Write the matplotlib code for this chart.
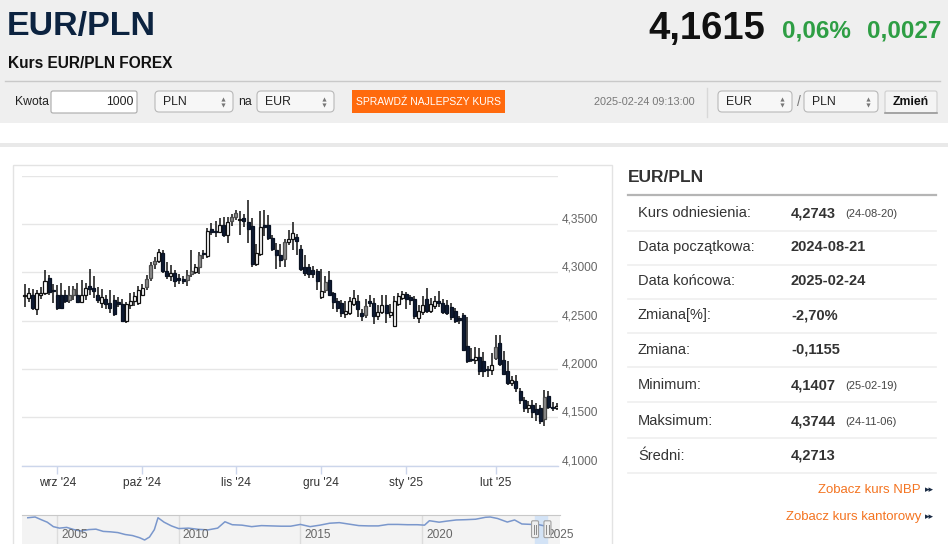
import numpy as np
import pandas as pd
import matplotlib
matplotlib.use("Agg")
import matplotlib.pyplot as plt
from matplotlib.patches import Rectangle, FancyBboxPatch
from matplotlib.transforms import ScaledTranslation, blended_transform_factory
from matplotlib import font_manager as fm

# ---------------- data ----------------
holidays = ["2024-12-25", "2025-01-01"]
month_labels = ["wrz '24", "paź '24", "lis '24", "gru '24", "sty '25", "lut '25"]

open_ = [4.275, 4.273, 4.277, 4.262, 4.276, 4.279, 4.294, 4.282, 4.277, 4.277,
         4.277, 4.271, 4.277, 4.277, 4.269, 4.276, 4.286, 4.284, 4.276, 4.268,
         4.272, 4.268, 4.271, 4.269, 4.267, 4.250, 4.266, 4.270, 4.268, 4.277,
         4.285, 4.294, 4.309, 4.312, 4.320, 4.301, 4.296, 4.299, 4.294, 4.293,
         4.292, 4.298, 4.300, 4.306, 4.320, 4.317, 4.345, 4.343, 4.342, 4.349,
         4.339, 4.3535, 4.3575, 4.354, 4.356, 4.352, 4.348, 4.309, 4.319, 4.349,
         4.349, 4.336, 4.323, 4.318, 4.314, 4.331, 4.334, 4.337, 4.324, 4.306,
         4.305, 4.302, 4.301, 4.274, 4.282, 4.292, 4.279, 4.270, 4.268, 4.257,
         4.258, 4.267, 4.270, 4.258, 4.256, 4.270, 4.268, 4.255, 4.259, 4.266,
         4.256, 4.244, 4.267, 4.273, 4.278, 4.274, 4.272, 4.253, 4.259, 4.272,
         4.260, 4.265, 4.270, 4.268, 4.266, 4.264, 4.260, 4.253, 4.256, 4.224,
         4.210, 4.209, 4.212, 4.208, 4.200, 4.199, 4.211, 4.227, 4.209, 4.198,
         4.185, 4.187, 4.177, 4.168, 4.160, 4.163, 4.159, 4.160, 4.148, 4.172,
         4.161, 4.160]
high = [4.288, 4.284, 4.283, 4.282, 4.285, 4.302, 4.297, 4.288, 4.287, 4.289,
        4.282, 4.286, 4.286, 4.289, 4.292, 4.289, 4.303, 4.296, 4.285, 4.283,
        4.276, 4.282, 4.277, 4.274, 4.272, 4.269, 4.279, 4.280, 4.286, 4.288,
        4.297, 4.311, 4.316, 4.324, 4.323, 4.311, 4.308, 4.302, 4.298, 4.296,
        4.302, 4.323, 4.309, 4.321, 4.323, 4.346, 4.351, 4.353, 4.356, 4.357,
        4.357, 4.360, 4.365, 4.363, 4.360, 4.3744, 4.356, 4.329, 4.363, 4.365,
        4.359, 4.339, 4.330, 4.329, 4.334, 4.344, 4.352, 4.340, 4.328, 4.318,
        4.309, 4.307, 4.303, 4.303, 4.296, 4.301, 4.280, 4.273, 4.271, 4.270,
        4.274, 4.282, 4.277, 4.262, 4.272, 4.276, 4.273, 4.266, 4.276, 4.276,
        4.267, 4.275, 4.279, 4.281, 4.280, 4.277, 4.275, 4.266, 4.275, 4.284,
        4.273, 4.275, 4.281, 4.272, 4.271, 4.268, 4.263, 4.255, 4.258, 4.254,
        4.222, 4.223, 4.222, 4.218, 4.203, 4.216, 4.235, 4.235, 4.219, 4.208,
        4.193, 4.194, 4.180, 4.171, 4.167, 4.168, 4.165, 4.163, 4.178, 4.177,
        4.166, 4.165]
low = [4.264, 4.269, 4.261, 4.256, 4.272, 4.276, 4.276, 4.268, 4.261, 4.262,
       4.268, 4.268, 4.271, 4.268, 4.268, 4.271, 4.276, 4.273, 4.268, 4.263,
       4.262, 4.258, 4.255, 4.264, 4.249, 4.247, 4.262, 4.265, 4.266, 4.275,
       4.282, 4.291, 4.303, 4.310, 4.299, 4.293, 4.291, 4.285, 4.288, 4.288,
       4.286, 4.295, 4.298, 4.298, 4.314, 4.315, 4.339, 4.337, 4.341, 4.337,
       4.330, 4.348, 4.354, 4.339, 4.347, 4.330, 4.306, 4.307, 4.317, 4.338,
       4.333, 4.322, 4.303, 4.305, 4.306, 4.328, 4.323, 4.318, 4.301, 4.296,
       4.294, 4.294, 4.282, 4.272, 4.279, 4.276, 4.262, 4.259, 4.254, 4.253,
       4.256, 4.265, 4.254, 4.250, 4.253, 4.264, 4.246, 4.251, 4.257, 4.247,
       4.253, 4.243, 4.265, 4.271, 4.262, 4.266, 4.252, 4.247, 4.256, 4.258,
       4.258, 4.262, 4.264, 4.257, 4.256, 4.251, 4.247, 4.246, 4.219, 4.206,
       4.207, 4.205, 4.194, 4.192, 4.192, 4.194, 4.209, 4.203, 4.194, 4.183,
       4.182, 4.176, 4.164, 4.155, 4.154, 4.149, 4.146, 4.143, 4.1407, 4.158,
       4.156, 4.157]
close = [4.276, 4.279, 4.263, 4.279, 4.279, 4.291, 4.280, 4.281, 4.263, 4.263,
         4.270, 4.276, 4.283, 4.269, 4.277, 4.284, 4.283, 4.281, 4.271, 4.274,
         4.267, 4.263, 4.257, 4.267, 4.250, 4.267, 4.270, 4.275, 4.282, 4.284,
         4.293, 4.308, 4.312, 4.321, 4.301, 4.296, 4.299, 4.291, 4.292, 4.291,
         4.297, 4.301, 4.305, 4.318, 4.319, 4.343, 4.342, 4.342, 4.349, 4.339,
         4.352, 4.357, 4.361, 4.355, 4.353, 4.345, 4.309, 4.320, 4.347, 4.347,
         4.336, 4.324, 4.318, 4.313, 4.331, 4.334, 4.341, 4.332, 4.303, 4.299,
         4.298, 4.298, 4.291, 4.281, 4.290, 4.277, 4.269, 4.263, 4.258, 4.260,
         4.270, 4.273, 4.262, 4.255, 4.265, 4.268, 4.255, 4.259, 4.266, 4.258,
         4.259, 4.270, 4.275, 4.278, 4.272, 4.271, 4.255, 4.260, 4.266, 4.260,
         4.267, 4.270, 4.268, 4.259, 4.258, 4.254, 4.250, 4.251, 4.220, 4.208,
         4.209, 4.212, 4.198, 4.198, 4.199, 4.204, 4.223, 4.205, 4.195, 4.185,
         4.188, 4.180, 4.168, 4.160, 4.163, 4.155, 4.153, 4.146, 4.171, 4.161,
         4.160, 4.1615]

y_ticks = [4.10, 4.15, 4.20, 4.25, 4.30, 4.35, 4.40]
y_labels = ["4,1000", "4,1500", "4,2000", "4,2500", "4,3000", "4,3500", ""]

nav_year = [2003.8, 2004.1, 2004.35, 2004.6, 2004.85, 2005.1, 2005.4, 2005.7, 2006.0, 2006.3,
            2006.6, 2006.9, 2007.2, 2007.5, 2007.8, 2008.1, 2008.4, 2008.6, 2008.8, 2009.0,
            2009.15, 2009.4, 2009.7, 2010.0, 2010.4, 2010.8, 2011.2, 2011.6, 2011.9, 2012.2,
            2012.6, 2013.0, 2013.4, 2013.8, 2014.2, 2014.6, 2015.0, 2015.4, 2015.8, 2016.2,
            2016.6, 2017.0, 2017.4, 2017.8, 2018.2, 2018.6, 2019.0, 2019.4, 2019.8, 2020.1,
            2020.3, 2020.7, 2021.0, 2021.4, 2021.8, 2022.2, 2022.6, 2022.8, 2023.1, 2023.5,
            2023.8, 2024.1, 2024.5, 2024.8, 2025.15]
nav_val = [4.75, 4.80, 4.62, 4.45, 4.15, 4.05, 4.10, 3.95, 3.85, 3.95,
           3.98, 3.83, 3.80, 3.75, 3.62, 3.55, 3.40, 3.25, 3.45, 3.95,
           4.75, 4.45, 4.20, 4.02, 4.05, 3.97, 3.93, 4.05, 4.48, 4.28,
           4.25, 4.15, 4.22, 4.20, 4.18, 4.18, 4.30, 4.15, 4.25, 4.38,
           4.42, 4.32, 4.22, 4.20, 4.20, 4.30, 4.30, 4.28, 4.28, 4.25,
           4.55, 4.45, 4.52, 4.60, 4.62, 4.65, 4.78, 4.80, 4.70, 4.46,
           4.60, 4.33, 4.30, 4.28, 4.16]
nav_years_lab = [2005, 2010, 2015, 2020, 2025]
nav_sel = [2024.64, 2025.15]

table_labels = ["Kurs odniesienia:", "Data początkowa:", "Data końcowa:", "Zmiana[%]:",
                "Zmiana:", "Minimum:", "Maksimum:", "Średni:"]
table_values = ["4,2743", "2024-08-21", "2025-02-24", "-2,70%", "-0,1155", "4,1407", "4,3744", "4,2713"]
table_notes = ["(24-08-20)", "", "", "", "", "(25-02-19)", "(24-11-06)", ""]

# ---------------- fonts ----------------
names = {f.name for f in fm.fontManager.ttflist}
NARROW = "Liberation Sans Narrow" if "Liberation Sans Narrow" in names else "Liberation Sans"
SANS = "Liberation Sans"

W, H = 948, 544
fig = plt.figure(figsize=(W / 100, H / 100), dpi=100)
fig.patch.set_facecolor("white")
bg = fig.add_axes([0, 0, 1, 1])
bg.set_xlim(0, W)
bg.set_ylim(H, 0)
bg.axis("off")


def px_axes(l, t, r, b):
    return fig.add_axes([l / W, 1 - b / H, (r - l) / W, (b - t) / H])


# ---------------- header ----------------
bg.add_patch(Rectangle((0, 0), W, 123, fc="#efefef", ec="none", zorder=0))
bg.add_patch(Rectangle((0, 143), W, 3.5, fc="#e9e9e9", ec="none", zorder=0))
bg.text(7, 27, "EUR/PLN", family=NARROW, weight="bold", fontsize=24.5, color="#0c2340",
        ha="left", va="center")
bg.text(765, 29, "4,1615", family=NARROW, weight="bold", fontsize=27.5, color="#111111",
        ha="right", va="center")
bg.text(851, 31, "0,06%", family=NARROW, weight="bold", fontsize=17.5, color="#2e9e44",
        ha="right", va="center")
bg.text(941, 31, "0,0027", family=NARROW, weight="bold", fontsize=17.5, color="#2e9e44",
        ha="right", va="center")
bg.text(8, 64, "Kurs EUR/PLN FOREX", family=NARROW, weight="bold", fontsize=11.2,
        color="#111111", ha="left", va="center")
bg.plot([5, 940], [81, 81], color="#c9c9c9", lw=1)

FY = 102
FS = 8.8
bg.text(15, FY, "Kwota", family=NARROW, fontsize=FS, color="#222", ha="left", va="center")
bg.add_patch(FancyBboxPatch((51, 91), 86, 22, boxstyle="round,pad=0,rounding_size=2",
                            fc="white", ec="#aaaaaa", lw=0.8))
bg.text(134, FY, "1000", family=NARROW, fontsize=FS, color="#222", ha="right", va="center")


def select(x0, x1, label):
    bg.add_patch(FancyBboxPatch((x0, 91), x1 - x0, 21, boxstyle="round,pad=0,rounding_size=4",
                                fc="#f7f7f7", ec="#b9b9b9", lw=0.8))
    bg.text(x0 + 8, FY, label, family=NARROW, fontsize=FS, color="#222", ha="left", va="center")
    bg.plot([x1 - 10], [99], marker="^", ms=3, color="#777", mec="none")
    bg.plot([x1 - 10], [105], marker="v", ms=3, color="#777", mec="none")


select(155, 233, "PLN")
bg.text(238, FY, "na", family=NARROW, fontsize=FS, color="#222", ha="left", va="center")
select(257, 334, "EUR")
bg.add_patch(Rectangle((352, 90), 153, 23, fc="#ff6a0d", ec="none"))
bg.text(428.5, FY, "SPRAWDŹ NAJLEPSZY KURS", family=NARROW, fontsize=7.5, color="white",
        ha="center", va="center")
bg.text(594, FY, "2025-02-24 09:13:00", family=NARROW, fontsize=7.8, color="#777777",
        ha="left", va="center")
bg.plot([707, 707], [88, 117], color="#d8d8d8", lw=1)
select(718, 792, "EUR")
bg.text(797, FY, "/", family=NARROW, fontsize=10, color="#777", ha="left", va="center")
select(804, 878, "PLN")
bg.add_patch(FancyBboxPatch((885, 91), 52, 22, boxstyle="round,pad=0,rounding_size=2",
                            fc="#f4f4f4", ec="#cfcfcf", lw=0.8))
bg.plot([885, 937], [113, 113], color="#9a9a9a", lw=1.2)
bg.text(911, FY, "Zmień", family=NARROW, weight="bold", fontsize=8.8, color="#111",
        ha="center", va="center")

# chart container
bg.add_patch(Rectangle((13, 165), 599, 400, fc="none", ec="#e3e3e3", lw=1))

# ---------------- main candlestick chart ----------------
dates = pd.bdate_range("2024-08-21", "2025-02-24")
dates = dates[~dates.isin(pd.to_datetime(holidays))]
n = len(dates)
xs = np.arange(n)
o = np.array(open_); h = np.array(high); l = np.array(low); c = np.array(close)

ax = px_axes(22, 175.7, 558, 465.5)
ax.set_xlim(-0.665, 131.35)
ax.set_ylim(4.10, 4.40)
ax.set_facecolor("none")
for s in ["top", "left", "right"]:
    ax.spines[s].set_visible(False)
ax.spines["bottom"].set_color("#ccd6eb")
ax.spines["bottom"].set_linewidth(1)

ax.set_yticks(y_ticks)
ax.set_yticklabels(y_labels)
ax.yaxis.tick_right()
ax.tick_params(axis="y", length=0, pad=3, labelsize=8.6, labelcolor="#666666")
for lab in ax.get_yticklabels():
    lab.set_family(SANS)
    lab.set_transform(lab.get_transform() + ScaledTranslation(0, 6 / 100, fig.dpi_scale_trans))
ax.yaxis.grid(True, color="#e6e6e6", lw=1)
ax.set_axisbelow(True)

mk = dates.to_period("M")
first_idx = [i for i in range(1, n) if mk[i] != mk[i - 1]]
ax.set_xticks(first_idx)
ax.set_xticklabels(month_labels)
ax.tick_params(axis="x", length=6, width=1, color="#ccd6eb", pad=2, labelsize=8.6,
               labelcolor="#333333")
for lab in ax.get_xticklabels():
    lab.set_family(SANS)

bw = 0.74
for i in range(n):
    up = c[i] >= o[i]
    prev = c[i - 1] if i > 0 else o[i]
    if up:
        if o[i] > prev:
            fc, ec = "#8d8d8d", "#4d4d4d"
        else:
            fc, ec = "white", "#111111"
    else:
        fc, ec = "#0e1b33", "#0a1222"
    ax.vlines(xs[i], l[i], h[i], color="#111111", lw=1.1, zorder=2)
    bot = min(o[i], c[i])
    hgt = max(abs(c[i] - o[i]), 0.0009)
    ax.add_patch(Rectangle((xs[i] - bw / 2, bot), bw, hgt, fc=fc, ec=ec, lw=0.9, zorder=3))

# ---------------- navigator ----------------
nav = px_axes(22, 515, 560, 544)
x_at_22 = 2005 - 35 / 24.34
x_at_560 = 2005 + 503 / 24.34
nav.set_xlim(x_at_22, x_at_560)
nav.set_ylim(2.98, 4.935)
nav.set_facecolor("#f3f3f3")
for s in ["left", "right", "bottom"]:
    nav.spines[s].set_visible(False)
nav.spines["top"].set_color("#c8c8c8")
nav.set_yticks([])
nav.set_xticks(nav_years_lab)
nav.set_xticklabels([])
nav.tick_params(axis="x", length=0)
nav.xaxis.grid(True, color="#dcdcdc", lw=1)
nav.set_axisbelow(True)
nav.axvspan(nav_sel[0], nav_sel[1], color="#d3e3f6", zorder=1)
nav.plot(nav_year, nav_val, color="#7a97cc", lw=1.1, zorder=3)
tr = blended_transform_factory(nav.transData, nav.transAxes)
for yr in nav_years_lab:
    nav.text(yr + 4 / 24.34, 0.3, str(yr), transform=tr, family=SANS, fontsize=8.6,
             color="#666666", ha="left", va="center", zorder=4)
hw = 7 / 24.34
for xe in nav_sel:
    nav.add_patch(FancyBboxPatch((xe - hw / 2, 0.22), hw, 0.58, transform=tr,
                                 boxstyle="round,pad=0,rounding_size=0.05",
                                 fc="#eeeeee", ec="#a0a0a0", lw=0.8, zorder=5,
                                 mutation_aspect=1))
    for d in (-1.2, 1.2):
        nav.plot([xe + d / 24.34] * 2, [0.35, 0.67], transform=tr, color="#888", lw=0.7, zorder=6)

# ---------------- right panel ----------------
bg.text(628, 178, "EUR/PLN", family=SANS, weight="bold", fontsize=12.5, color="#333333",
        ha="left", va="center")
bg.plot([628, 936], [195, 195], color="#b5b5b5", lw=1.6)
row_y = [213, 247, 281, 315, 350, 385, 421, 456]
sep_y = [231, 265, 299, 333, 367, 402, 438, 473]
for k in range(len(table_labels)):
    bg.text(638, row_y[k], table_labels[k], family=SANS, fontsize=10.5, color="#333333",
            ha="left", va="center")
    bg.text(791, row_y[k], table_values[k], family=SANS, weight="bold", fontsize=10.5,
            color="#333333", ha="left", va="center")
    if table_notes[k]:
        bg.text(845, row_y[k] + 1, table_notes[k], family=SANS, fontsize=8, color="#444444",
                ha="left", va="center")
    bg.plot([628, 936], [sep_y[k], sep_y[k]], color="#efefef", lw=1.2)

for yy, txt in [(490, "Zobacz kurs NBP"), (517, "Zobacz kurs kantorowy")]:
    bg.text(921, yy, txt, family=SANS, fontsize=9.5, color="#f47421", ha="right", va="center")
    bg.text(925, yy, "▸▸", family="DejaVu Sans", fontsize=6.5, color="#1a2b44",
            ha="left", va="center")

fig.savefig("out.png", dpi=100, facecolor="white")
